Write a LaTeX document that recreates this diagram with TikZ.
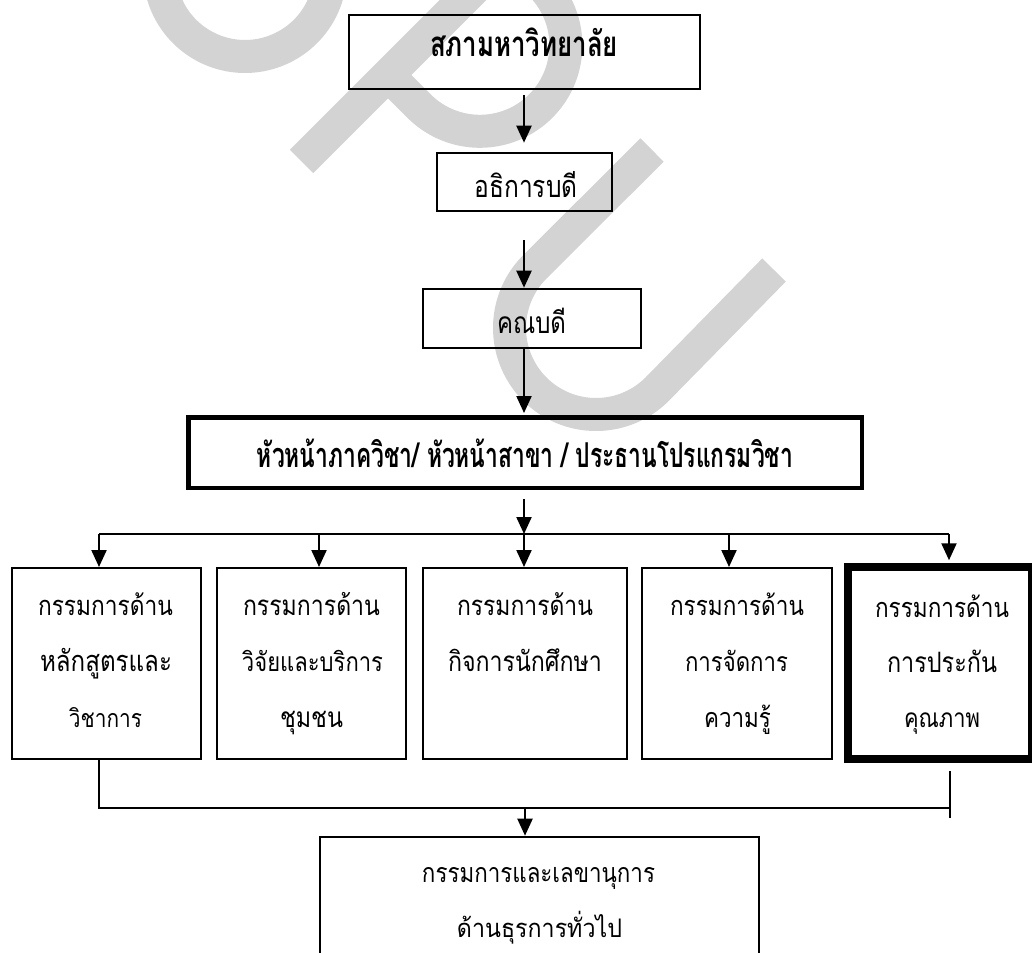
\documentclass[tikz,border=0pt]{standalone}
\usepackage{fontspec}
\usepackage{graphicx}
\usetikzlibrary{arrows.meta,calc}
\newfontfamily\thai[Script=Thai]{Loma}
\definecolor{wmgray}{RGB}{211,211,211}
\newcommand{\fitw}[3][1]{\scalebox{1}[#1]{\resizebox{#2}{!}{#3}}}
\begin{document}
\begin{tikzpicture}[x=1pt,y=-1pt,
  wm/.style={draw=wmgray, line width=33pt, line cap=butt},
  boxthin/.style={draw, line width=2pt, inner sep=0pt},
  boxmid/.style={draw, line width=2.6pt, inner sep=0pt},
  boxhead/.style={draw, line width=4.5pt, inner sep=0pt},
  boxthick/.style={draw, line width=7.5pt, inner sep=0pt},
  txt/.style={inner sep=0pt, anchor=base, font=\thai},
  conn/.style={line width=2.2pt},
  arr/.style={line width=2.2pt, -{Triangle[width=15pt,length=17pt]}}
]
\useasboundingbox (0,0) rectangle (1032,952);
\clip (0,0) rectangle (1032,952);
\fill[white] (0,0) rectangle (1032,952);

% watermark
\draw[wm] plot[domain=185:-5, samples=80] ({245+85.5*cos(\x)}, {-29+85.5*sin(\x)});
\draw[wm] (301.5,161.5) -- (520,-57);
\draw[wm] (388,75) -- plot[domain=135:-45, samples=80] ({479.9+86*cos(\x)}, {45.3+86*sin(\x)}) -- (515,-40);
\draw[wm] (652,150) -- plot[domain=225:45, samples=80] ({596+86.5*cos(\x)}, {328+86.5*sin(\x)}) -- (774,270);

% boxes
\node[boxmid, minimum width=351pt, minimum height=74pt] (sapha) at (524.5,52) {};
\node[boxmid, minimum width=175pt, minimum height=58pt] (athi) at (524.5,182) {};
\node[boxmid, minimum width=218pt, minimum height=59pt] (khana) at (532,318.5) {};
\node[boxhead, minimum width=673.5pt, minimum height=70.5pt] (head) at (525,452.5) {};
\node[boxthin, minimum width=189pt, minimum height=191pt] (A) at (106.5,663.5) {};
\node[boxthin, minimum width=189pt, minimum height=191pt] (B) at (311.5,663.5) {};
\node[boxthin, minimum width=204pt, minimum height=191pt] (C) at (525,663.5) {};
\node[boxthin, minimum width=190pt, minimum height=191pt] (D) at (737,663.5) {};
\node[boxthick, minimum width=184pt, minimum height=192pt] (E) at (940,663) {};
\node[boxmid, minimum width=439pt, minimum height=146pt] (F) at (539.5,910) {};

% texts
\node[txt] (t1) at (524,57) {\fitw[1.35]{188pt}{\bfseries สภามหาวิทยาลัย}};
\node[txt] (t2) at (526,197) {\fitw[1.25]{103pt}{อธิการบดี}};
\node[txt] (t3) at (531.5,333) {\fitw[1.25]{69pt}{คณบดี}};
\node[txt] (t4) at (525,467) {\fitw[1.5]{536pt}{\bfseries หัวหน้าภาควิชา/ หัวหน้าสาขา / ประธานโปรแกรมวิชา}};

\node[txt] (a1) at (105.5,615) {\fitw[1.2]{135pt}{กรรมการด้าน}};
\node[txt] (a2) at (106,671) {\fitw[1.2]{132pt}{หลักสูตรและ}};
\node[txt] (a3) at (105.5,727) {\fitw[1.2]{73pt}{วิชาการ}};

\node[txt] (b1) at (311.5,615) {\fitw[1.2]{137pt}{กรรมการด้าน}};
\node[txt] (b2) at (312.5,671) {\fitw[1.2]{141pt}{วิจัยและบริการ}};
\node[txt] (b3) at (311.5,727) {\fitw[1.2]{63pt}{ชุมชน}};

\node[txt] (c1) at (525,615) {\fitw[1.2]{136pt}{กรรมการด้าน}};
\node[txt] (c2) at (525,671) {\fitw[1.2]{154pt}{กิจการนักศึกษา}};

\node[txt] (d1) at (737,615) {\fitw[1.2]{134pt}{กรรมการด้าน}};
\node[txt] (d2) at (736.5,671) {\fitw[1.2]{103pt}{การจัดการ}};
\node[txt] (d3) at (737.5,727) {\fitw[1.2]{67pt}{ความรู้}};

\node[txt] (e1) at (942,617) {\fitw[1.2]{134pt}{กรรมการด้าน}};
\node[txt] (e2) at (942,672) {\fitw[1.2]{110pt}{การประกัน}};
\node[txt] (e3) at (942,727) {\fitw[1.2]{76pt}{คุณภาพ}};

\node[txt] (f1) at (538.5,882) {\fitw[1.2]{233pt}{กรรมการและเลขานุการ}};
\node[txt] (f2) at (539.5,937) {\fitw[1.1]{165pt}{ด้านธุรการทั่วไป}};

% connectors
\coordinate (ax) at (524,0);
\draw[arr, shorten <=5pt, shorten >=9pt] (sapha.south -| ax) -- (athi.north -| ax);
\draw[arr, shorten <=28pt] (athi.south -| ax) -- (khana.north -| ax);
\draw[arr, shorten >=2pt] (khana.south -| ax) -- (head.north -| ax);
\coordinate (bM) at (524,534);
\draw[arr, shorten <=9pt] (head.south -| ax) -- (bM);

\coordinate (bA) at (99,534);
\coordinate (bB) at (319,534);
\coordinate (bD) at (729,534);
\coordinate (bE) at (949,534);
\draw[conn] (bA) -- (bE);
\draw[arr] (bA) -- (bA |- A.north);
\draw[arr] (bB) -- (bB |- B.north);
\draw[arr] (bM) -- (bM |- C.north);
\draw[arr] (bD) -- (bD |- D.north);
\draw[arr, shorten >=3pt] (bE) -- (bE |- E.north);

\coordinate (cL) at (99,808);
\coordinate (cR) at (950,808);
\coordinate (cM) at (525,808);
\coordinate (tT) at (950,771);
\coordinate (tB) at (950,818);
\draw[conn] (A.south -| cL) -- (cL) -- (cR);
\draw[conn] (tT) -- (tB);
\draw[arr] (cM) -- (cM |- F.north);
\end{tikzpicture}
\end{document}
